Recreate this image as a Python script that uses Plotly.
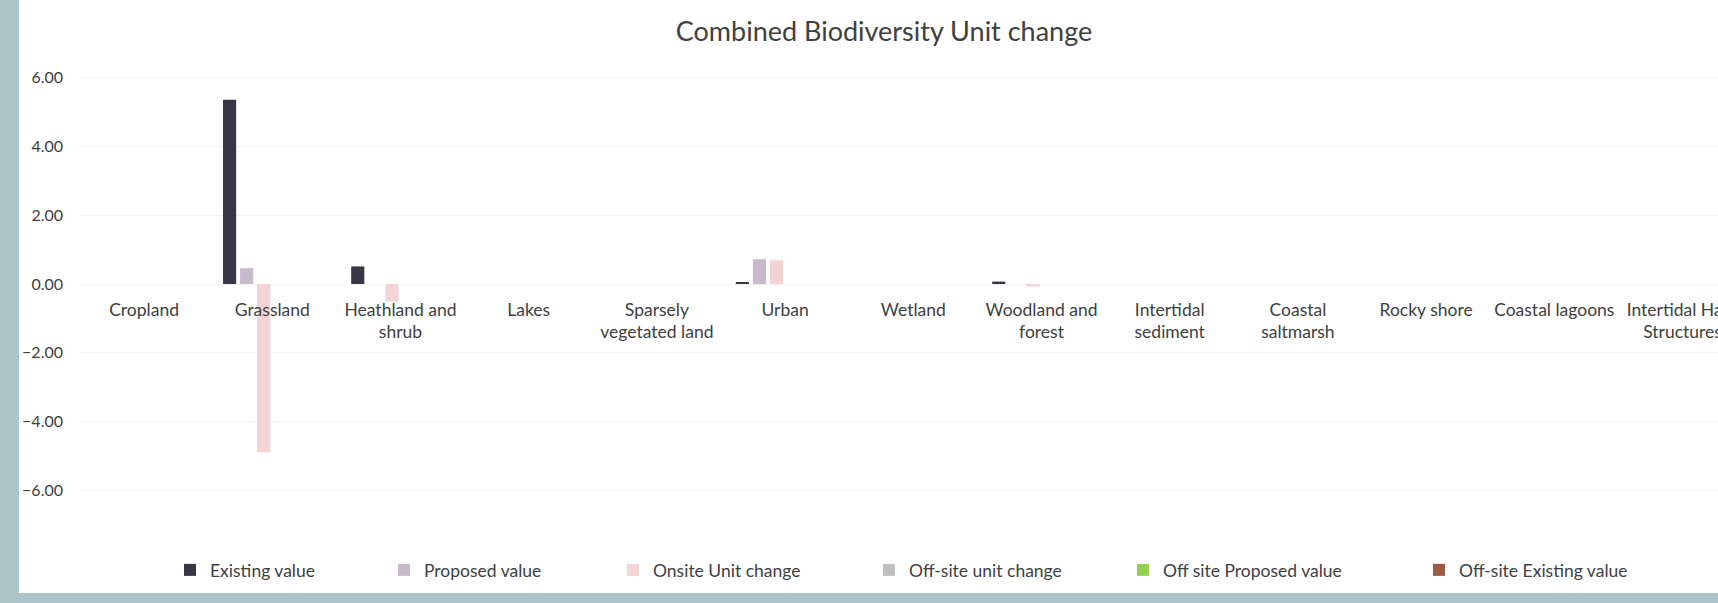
import plotly.graph_objects as go

# habitat categories (x axis)
categories = [
    "Cropland", "Grassland", "Heathland and<br>shrub", "Lakes",
    "Sparsely<br>vegetated land", "Urban", "Wetland", "Woodland and<br>forest",
    "Intertidal<br>sediment", "Coastal<br>saltmarsh", "Rocky shore",
    "Coastal lagoons", "Intertidal Hard<br>Structures",
]

# series values
existing_value = [0, 5.35, 0.51, 0, 0, 0.03, 0, 0.07, 0, 0, 0, 0, 0]
proposed_value = [0, 0.46, 0, 0, 0, 0.72, 0, 0, 0, 0, 0, 0, 0]
onsite_change = [0, -4.89, -0.51, 0, 0, 0.69, 0, -0.07, 0, 0, 0, 0, 0]
offsite_change = [0] * 13
offsite_proposed = [0] * 13
offsite_existing = [0] * 13

series_names = [
    "Existing value", "Proposed value", "Onsite Unit change",
    "Off-site unit change", "Off site Proposed value", "Off-site Existing value",
]
series_values = [existing_value, proposed_value, onsite_change,
                 offsite_change, offsite_proposed, offsite_existing]
series_colors = ["#383746", "#c9b9cd", "#f4d3d5", "#bfbfbf", "#92d050", "#9c5a44"]

# legend item positions (pixels from left)
legend_px = [190, 404, 633, 889, 1143, 1439]

W, H = 1718, 603
ML, MR, MT, MB = 80, 0, 74, 109
plot_w = W - ML - MR
plot_h = H - MT - MB
border = "#abc4c8"
text_col = "#404040"
font = "Lato"

fig = go.Figure()
for i, (name, vals, col) in enumerate(zip(series_names, series_values, series_colors)):
    fig.add_trace(go.Bar(
        x=categories, y=vals, name=name, marker_color=col,
        marker_line_width=0,
        legend="legend" if i == 0 else f"legend{i+1}",
    ))

#one legend per item so each sits where the original put it
legends = {}
for i, px in enumerate(legend_px):
    key = "legend" if i == 0 else f"legend{i+1}"
    legends[key] = dict(
        x=(px - 20 - ML) / plot_w, xanchor="left",
        y=(H - MB - 570) / plot_h, yanchor="middle",
        orientation="h", bgcolor="rgba(0,0,0,0)",
        font=dict(family=font, size=17.5, color=text_col),
        itemwidth=30,
    )

# light blue-grey frame on left and bottom
shapes = [
    dict(type="rect", xref="paper", yref="paper", layer="below",
         x0=(0 - ML) / plot_w, x1=(19 - ML) / plot_w,
         y0=(H - MB - H) / plot_h, y1=(H - MB) / plot_h + MT / plot_h,
         fillcolor=border, line_width=0),
    dict(type="rect", xref="paper", yref="paper", layer="below",
         x0=(0 - ML) / plot_w, x1=1.0,
         y0=(H - MB - H) / plot_h, y1=(H - MB - 593) / plot_h,
         fillcolor=border, line_width=0),
]

fig.update_layout(
    width=W, height=H,
    margin=dict(l=ML, r=MR, t=MT, b=MB, autoexpand=False),
    paper_bgcolor="white", plot_bgcolor="white",
    title=dict(text="Combined Biodiversity Unit change", x=(884 - ML) / plot_w,
               xref="paper", xanchor="center", y=1 - 32 / H, yanchor="middle",
               font=dict(family=font, size=27, color=text_col)),
    barmode="group", bargap=0.2, bargroupgap=0.23,
    font=dict(family=font, size=17, color=text_col),
    showlegend=True,
    shapes=shapes,
    **legends,
)

#category labels sit on the zero line, like the original
fig.update_xaxes(
    range=[-0.5, plot_w / 128.2 - 0.5],
    anchor="free", position=6.1 / 12.2,
    showgrid=False, zeroline=False, showline=False, ticks="",
    tickangle=0, automargin=False, ticklabelstandoff=13,
    tickfont=dict(family=font, size=17.5, color=text_col),
)
fig.update_yaxes(
    range=[-6.1, 6.1], dtick=2, tickformat=".2f",
    showgrid=True, gridcolor="#eef3f3", gridwidth=1,
    zeroline=True, zerolinecolor="#eef3f3", zerolinewidth=1,
    showline=False, ticks="", automargin=False, ticklabelstandoff=16,
    tickfont=dict(family=font, size=16, color=text_col),
)

# page margin off so the figure sits flush with the window
fig.write_html("out.html", config={"displayModeBar": False},
               post_script="document.body.style.margin='0';")
